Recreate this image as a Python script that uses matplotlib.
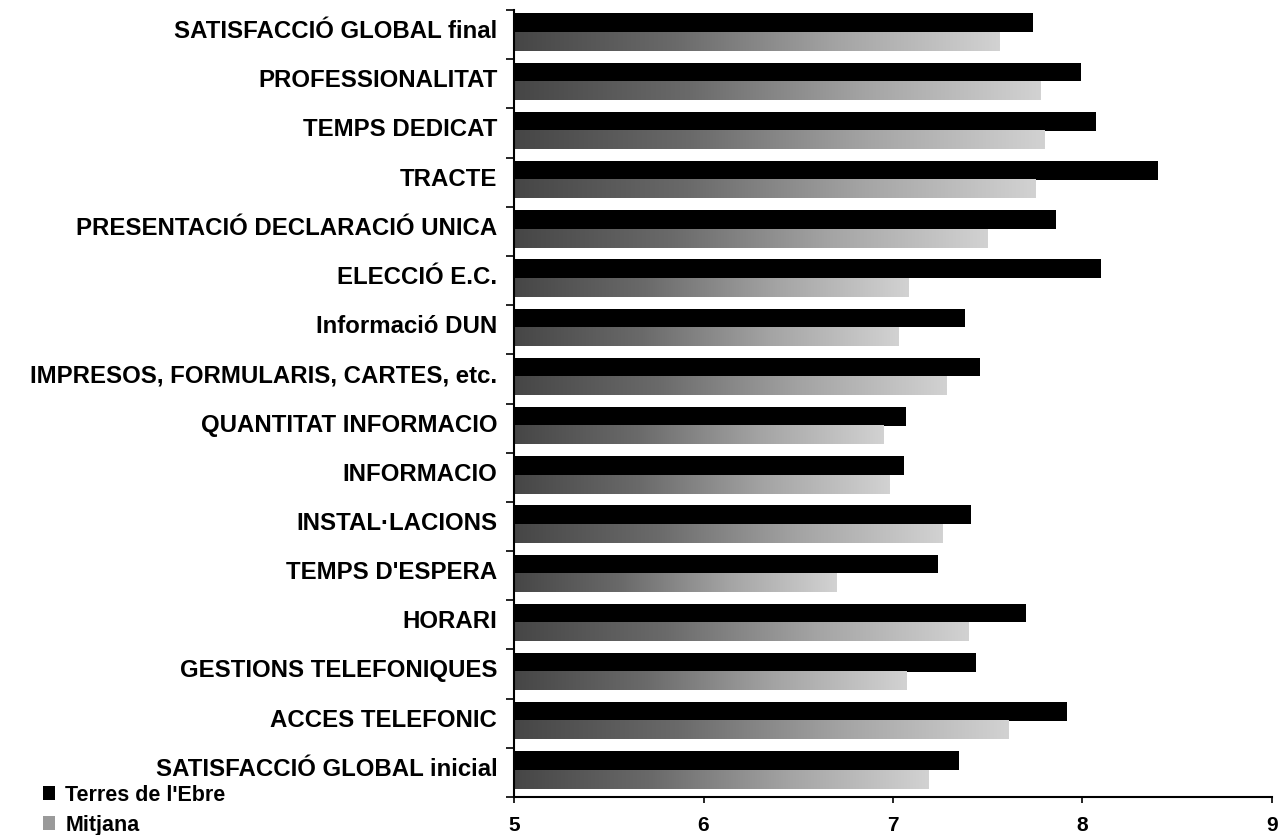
import matplotlib
matplotlib.use("Agg")
import matplotlib.pyplot as plt
import matplotlib.transforms as mtransforms
import numpy as np
from matplotlib.colors import LinearSegmentedColormap
from matplotlib.patches import Patch

plt.rcParams['font.family'] = ['Liberation Sans', 'DejaVu Sans']
plt.rcParams['font.weight'] = 'bold'

# items, top to bottom
items = [
    "SATISFACCIÓ GLOBAL final",
    "PROFESSIONALITAT",
    "TEMPS DEDICAT",
    "TRACTE",
    "PRESENTACIÓ DECLARACIÓ UNICA",
    "ELECCIÓ E.C.",
    "Informació DUN",
    "IMPRESOS, FORMULARIS, CARTES, etc.",
    "QUANTITAT INFORMACIO",
    "INFORMACIO",
    "INSTAL·LACIONS",
    "TEMPS D'ESPERA",
    "HORARI",
    "GESTIONS TELEFONIQUES",
    "ACCES TELEFONIC",
    "SATISFACCIÓ GLOBAL inicial",
]
terres_ebre = [7.74, 7.99, 8.07, 8.40, 7.86, 8.10, 7.38, 7.46,
               7.07, 7.06, 7.41, 7.24, 7.70, 7.44, 7.92, 7.35]
mitjana = [7.56, 7.78, 7.80, 7.75, 7.50, 7.08, 7.03, 7.28,
           6.95, 6.98, 7.26, 6.70, 7.40, 7.07, 7.61, 7.19]

y = np.arange(len(items))
h = 0.38

fig = plt.figure(figsize=(12.86, 8.35), dpi=100)
ax = fig.add_axes([0.3997, 0.0455, 0.5894, 0.9425])

ax.barh(y - 0.24, np.array(terres_ebre) - 5, h, left=5, color='black')
grey = ax.barh(y + 0.14, np.array(mitjana) - 5, h, left=5, color='none')

# speckled grey bars: darker near the axis, fading toward the end
fade = LinearSegmentedColormap.from_list('fade', ['#464646', '#6a6a6a', '#a4a4a4', '#d2d2d2'])
grad = np.linspace(0, 1, 256).reshape(1, -1)
for p in grey.patches:
    x0, y0 = p.get_x(), p.get_y()
    ax.imshow(grad, cmap=fade, aspect='auto', interpolation='bilinear',
              extent=(x0, x0 + p.get_width(), y0 + p.get_height(), y0), zorder=1.5)

ax.set_xlim(5, 9)
ax.set_ylim(len(items) - 0.5, -0.5)
ax.set_xticks([5, 6, 7, 8, 9])
ax.tick_params(axis='x', direction='out', length=4, width=1.2, pad=10, labelsize=15)

ax.set_yticks(y)
ax.set_yticklabels(items)
ax.set_yticks(np.arange(len(items) + 1) - 0.5, minor=True)
ax.tick_params(axis='y', which='major', length=0, pad=12, labelsize=17.3)
ax.tick_params(axis='y', which='minor', direction='out', length=6, width=1.2)

# nudge the category names up a little
shift = mtransforms.ScaledTranslation(0, 4 / 72, fig.dpi_scale_trans)
for lbl in ax.get_yticklabels():
    lbl.set_transform(lbl.get_transform() + shift)

for s in ['top', 'right']:
    ax.spines[s].set_visible(False)
for s in ['left', 'bottom']:
    ax.spines[s].set_linewidth(1.5)

handles = [Patch(facecolor='black'), Patch(facecolor='#9a9a9a')]
fig.legend(handles, ["Terres de l'Ebre", "Mitjana"], loc='lower left',
           bbox_to_anchor=(0.018, -0.024), frameon=False, fontsize=15.5,
           handlelength=0.6, handleheight=0.6, handletextpad=0.45, labelspacing=0.42)

fig.savefig('out.png', dpi=100)
